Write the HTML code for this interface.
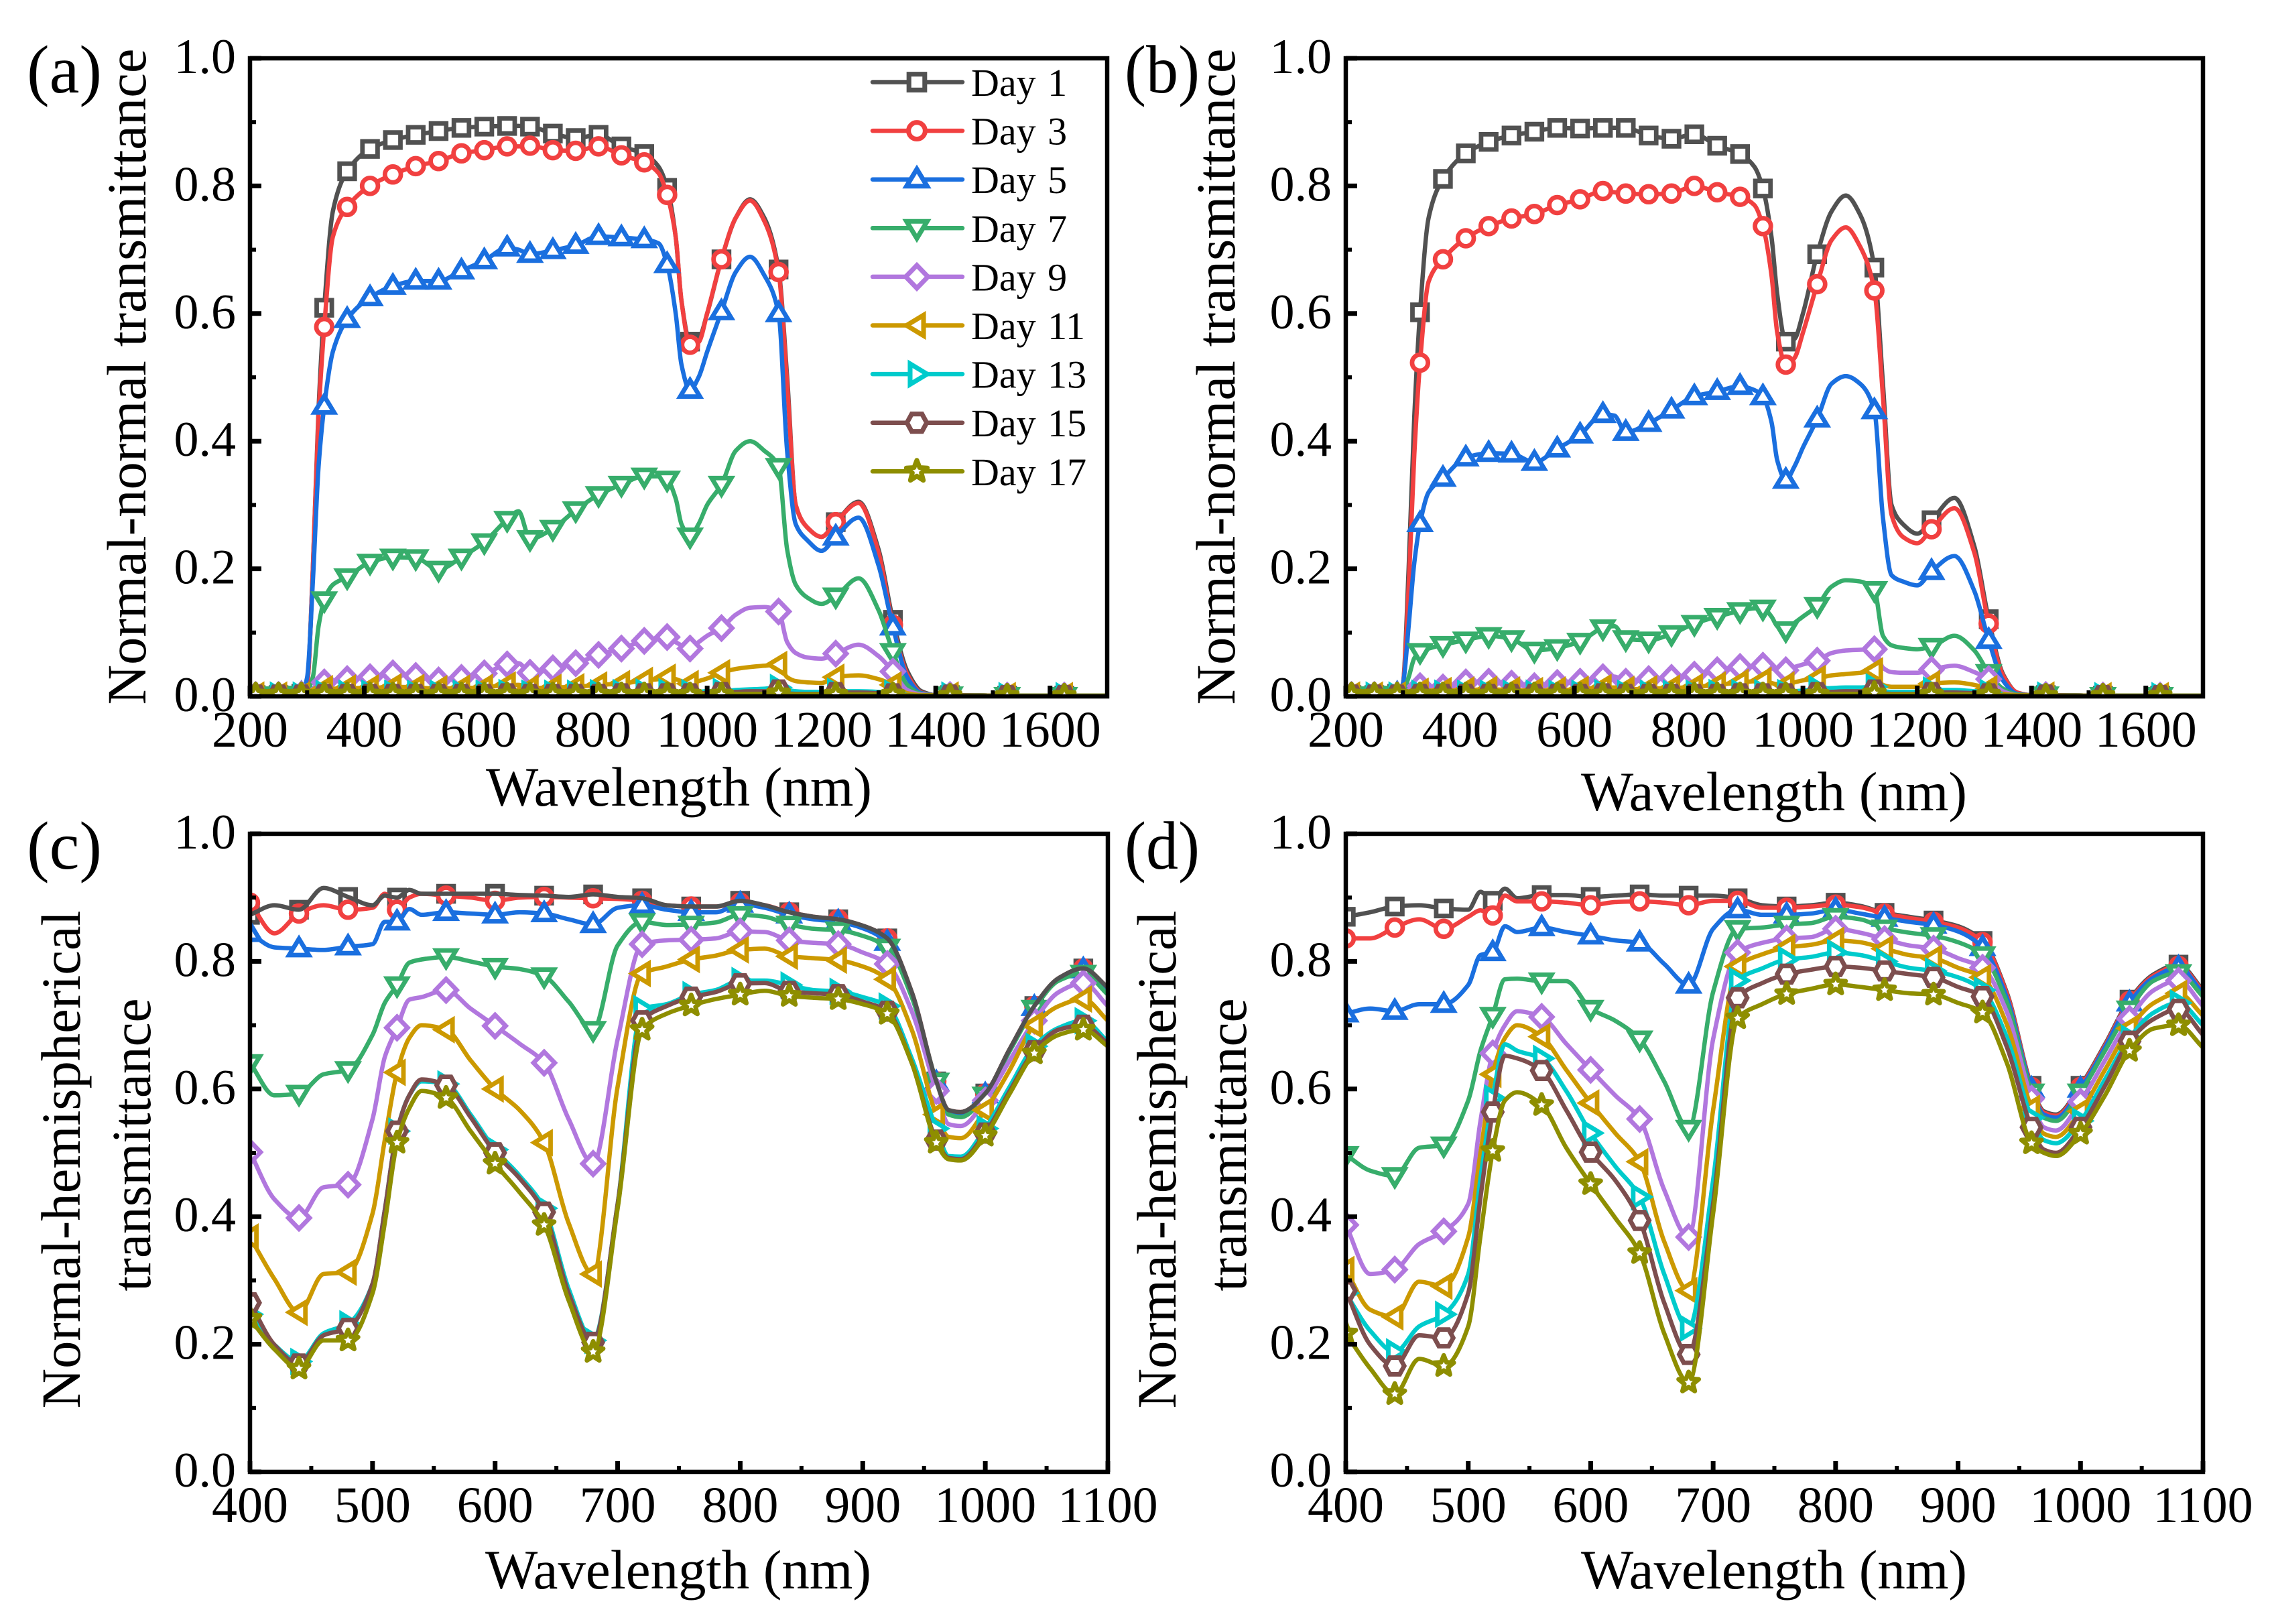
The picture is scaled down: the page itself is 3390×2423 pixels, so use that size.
<!DOCTYPE html>
<html lang="en">
<head>
<meta charset="utf-8">
<title>Transmittance spectra by day</title>
<style>
html,body{margin:0;padding:0;background:#fff}
svg{display:block}
text{font-family:"Liberation Serif",serif;fill:#000}
</style>
</head>
<body>
<svg id="figure" xmlns="http://www.w3.org/2000/svg" width="3390" height="2423" viewBox="0 0 3390 2423">
<rect width="3390" height="2423" fill="#fff"/>
</svg>
<script>
const dayLabels=['Day 1','Day 3','Day 5','Day 7','Day 9','Day 11','Day 13','Day 15','Day 17'];
const yTickValues=[0,0.2,0.4,0.6,0.8,1.0];
const yTickLabels=['0.0','0.2','0.4','0.6','0.8','1.0'];
const yMinorValues=[0.1,0.3,0.5,0.7,0.9];
const xTicksAB=[200,400,600,800,1000,1200,1400,1600];
const xMinorAB=[300,500,700,900,1100,1300,1500,1700];
const xTicksCD=[400,500,600,700,800,900,1000,1100];
const xMinorCD=[450,550,650,750,850,950,1050];

const wavelengthsAB=[200,210,250,290,300,310,320,330,345,370,
410,450,490,530,570,610,650,670,690,730,
770,810,850,890,915,930,945,955,970,985,
1000,1025,1050,1075,1100,1125,1140,1155,1175,1200,
1225,1265,1300,1325,1350,1375,1400,1425,1525,1625,
1700];
const markerWavelengthsAB=[210,250,290,330,370,410,450,490,530,570,610,650,690,730,770,810,850,890,930,970,1025,1125,1225,1325,1425,1525,1625];
const wavelengthsCD=[400,420,440,460,480,500,510,520,530,540,560,580,600,620,640,660,680,700,
720,740,760,780,800,820,840,860,880,900,920,940,960,970,980,1000,1020,1040,1060,1080,1100];
const markerWavelengthsCD=[400,440,480,520,560,600,640,680,720,760,800,840,880,920,960,1000,1040,1080];

const aDay1=[.002,.002,.002,.004,.02,.2,.45,.609,.76,.823,
.858,.872,.88,.886,.891,.893,.894,.894,.893,.882,
.875,.88,.862,.85,.83,.797,.72,.62,.556,.56,
.60,.685,.75,.779,.75,.669,.5,.3,.265,.25,
.273,.305,.23,.12,.04,.008,.002,.002,.001,.001,
.001];
const aDay3=[.002,.002,.002,.004,.02,.2,.44,.579,.72,.767,
.80,.818,.831,.839,.851,.856,.862,.862,.863,.856,
.855,.862,.848,.837,.82,.786,.72,.62,.551,.555,
.60,.685,.75,.777,.745,.665,.49,.3,.265,.25,
.273,.303,.225,.112,.035,.006,.002,.002,.001,.001,
.001];
const aDay5=[.002,.002,.002,.004,.03,.18,.36,.455,.54,.591,
.625,.643,.651,.651,.667,.683,.703,.70,.693,.699,
.707,.721,.719,.716,.71,.677,.6,.52,.48,.5,
.54,.603,.665,.689,.66,.60,.384,.27,.245,.228,
.25,.28,.205,.109,.03,.005,.002,.002,.001,.001,
.001];
const aDay7=[.002,.002,.002,.003,.01,.03,.11,.151,.175,.187,
.21,.218,.217,.199,.218,.242,.277,.29,.247,.263,
.292,.316,.332,.345,.345,.34,.31,.27,.251,.27,
.3,.332,.385,.40,.385,.36,.23,.175,.155,.145,
.157,.185,.135,.07,.018,.004,.002,.002,.001,.001,
.001];
const aDay9=[.002,.002,.002,.003,.005,.012,.02,.022,.025,.027,
.03,.036,.032,.025,.029,.036,.05,.052,.037,.044,
.052,.065,.075,.087,.09,.093,.085,.08,.075,.085,
.095,.107,.128,.139,.14,.133,.085,.068,.061,.059,
.067,.081,.063,.039,.01,.003,.002,.002,.001,.001,
.001];
const aDay11=[.002,.002,.002,.002,.004,.008,.011,.012,.012,.013,
.013,.015,.014,.012,.013,.014,.018,.018,.013,.014,
.015,.018,.02,.025,.027,.03,.027,.024,.02,.024,
.028,.037,.043,.046,.048,.05,.03,.024,.022,.021,
.03,.033,.027,.018,.005,.002,.002,.002,.001,.001,
.001];
const aDay13=[.002,.002,.002,.002,.003,.005,.005,.005,.005,.005,
.005,.005,.005,.005,.005,.005,.006,.006,.005,.005,
.005,.006,.006,.007,.007,.007,.007,.006,.006,.007,
.008,.008,.01,.011,.012,.014,.01,.008,.007,.007,
.008,.008,.007,.005,.002,.001,.001,.002,.001,.001,
.001];
const aDay15=[.002,.002,.002,.002,.002,.003,.003,.003,.003,.003,
.003,.003,.003,.003,.003,.003,.004,.004,.003,.003,
.003,.003,.004,.004,.004,.004,.004,.004,.004,.005,
.005,.006,.007,.008,.008,.01,.005,.004,.004,.004,
.006,.006,.005,.004,.001,.001,.001,.002,.001,.001,
.001];
const aDay17=[.003,.003,.003,.003,.003,.003,.003,.003,.003,.003,
.003,.003,.003,.003,.003,.003,.003,.003,.003,.003,
.003,.003,.003,.003,.003,.003,.003,.003,.003,.003,
.003,.003,.004,.004,.004,.005,.004,.003,.003,.003,
.003,.003,.003,.003,.002,.001,.001,.001,.001,.001,
.001];

const bDay1=[.002,.002,.002,.004,.02,.2,.44,.602,.75,.811,
.851,.869,.879,.885,.891,.89,.891,.891,.891,.879,
.874,.881,.863,.85,.83,.796,.72,.63,.556,.56,
.60,.693,.76,.785,.755,.672,.49,.3,.27,.255,
.276,.311,.235,.121,.035,.006,.002,.002,.001,.001,
.001];
const bDay3=[.002,.002,.002,.004,.02,.17,.38,.523,.65,.685,
.718,.737,.749,.756,.77,.779,.792,.79,.788,.787,
.788,.80,.79,.783,.77,.737,.66,.57,.52,.53,
.57,.646,.715,.735,.705,.636,.47,.285,.25,.24,
.262,.295,.225,.114,.033,.006,.002,.002,.001,.001,
.001];
const bDay5=[.002,.002,.002,.004,.02,.11,.21,.271,.32,.342,
.374,.381,.38,.367,.388,.41,.442,.44,.414,.428,
.449,.47,.478,.486,.48,.47,.43,.37,.339,.36,
.39,.435,.49,.502,.49,.448,.28,.19,.18,.174,
.196,.22,.165,.088,.025,.004,.002,.002,.001,.001,
.001];
const bDay7=[.002,.002,.002,.003,.008,.03,.06,.07,.075,.081,
.088,.095,.09,.072,.076,.086,.107,.11,.09,.088,
.098,.114,.125,.134,.138,.138,.125,.11,.104,.115,
.125,.142,.172,.182,.18,.167,.095,.08,.076,.074,
.078,.095,.072,.037,.012,.003,.002,.002,.001,.001,
.001];
const bDay9=[.002,.002,.002,.002,.004,.01,.015,.016,.015,.014,
.022,.023,.02,.016,.021,.023,.03,.031,.023,.027,
.029,.034,.041,.046,.047,.048,.044,.042,.041,.046,
.05,.056,.068,.072,.073,.074,.045,.038,.037,.037,
.042,.048,.038,.027,.008,.002,.002,.002,.001,.001,
.001];
const bDay11=[.002,.002,.002,.002,.003,.006,.008,.008,.009,.009,
.01,.011,.01,.009,.01,.011,.014,.014,.011,.012,
.013,.015,.018,.022,.024,.025,.021,.019,.018,.022,
.025,.028,.033,.035,.037,.04,.018,.015,.015,.015,
.02,.022,.018,.012,.004,.002,.002,.002,.001,.001,
.001];
const bDay13=[.002,.002,.002,.002,.003,.004,.004,.005,.005,.005,
.005,.005,.005,.005,.005,.005,.006,.006,.005,.005,
.005,.005,.006,.006,.006,.006,.006,.006,.006,.008,
.009,.012,.013,.014,.014,.015,.008,.007,.007,.007,
.01,.01,.008,.006,.002,.001,.001,.002,.001,.001,
.001];
const bDay15=[.002,.002,.002,.002,.002,.003,.003,.003,.003,.003,
.003,.003,.003,.003,.003,.003,.004,.004,.003,.003,
.003,.003,.003,.004,.004,.004,.004,.004,.004,.005,
.005,.006,.007,.008,.008,.01,.005,.004,.004,.004,
.006,.006,.005,.004,.001,.001,.001,.002,.001,.001,
.001];
const bDay17=[.003,.003,.003,.003,.003,.003,.003,.003,.003,.003,
.003,.003,.003,.003,.003,.003,.003,.003,.003,.003,
.003,.003,.003,.003,.003,.003,.003,.003,.003,.003,
.003,.003,.004,.004,.004,.005,.004,.003,.003,.003,
.003,.003,.003,.003,.002,.001,.001,.001,.001,.001,
.001];

const cDay1=[.873,.888,.881,.915,.901,.888,.903,.90,.912,.906,.906,.906,.906,.904,.903,.901,.905,.901,
.899,.888,.886,.886,.895,.888,.877,.87,.866,.856,.836,.752,.612,.567,.564,.593,.663,.73,.774,.789,.759];
const cDay3=[.892,.844,.875,.888,.881,.884,.906,.881,.90,.906,.903,.90,.895,.90,.901,.90,.899,.898,
.895,.888,.886,.886,.892,.888,.877,.87,.866,.856,.836,.752,.612,.567,.564,.593,.663,.73,.774,.789,.759];
const cDay5=[.844,.822,.82,.818,.823,.827,.862,.862,.882,.873,.877,.875,.873,.877,.875,.866,.858,.884,
.888,.881,.877,.877,.89,.884,.873,.866,.862,.852,.83,.75,.61,.565,.562,.591,.66,.728,.772,.787,.757];
const cDay7=[.641,.59,.593,.623,.63,.685,.735,.763,.798,.803,.807,.80,.792,.788,.777,.737,.693,.825,
.862,.857,.858,.861,.873,.87,.858,.851,.849,.84,.822,.744,.612,.56,.556,.59,.66,.726,.77,.781,.748];
const cDay9=[.501,.427,.398,.446,.45,.553,.65,.696,.74,.744,.755,.726,.699,.671,.641,.553,.483,.678,
.827,.833,.834,.836,.847,.846,.833,.829,.827,.814,.796,.722,.597,.545,.542,.582,.645,.707,.752,.766,.73];
const cDay11=[.368,.302,.25,.31,.313,.405,.52,.626,.68,.70,.693,.645,.60,.567,.516,.39,.31,.604,
.781,.792,.803,.809,.818,.82,.808,.805,.802,.792,.772,.693,.56,.525,.523,.567,.63,.70,.73,.741,.707];
const cDay13=[.247,.199,.173,.217,.232,.295,.41,.534,.59,.612,.608,.56,.505,.464,.413,.287,.206,.42,
.726,.733,.748,.755,.77,.77,.763,.755,.753,.744,.73,.648,.538,.495,.494,.538,.604,.667,.696,.707,.674];
const cDay15=[.265,.199,.169,.214,.225,.295,.41,.534,.59,.615,.606,.556,.50,.46,.407,.28,.203,.42,
.707,.73,.744,.752,.765,.766,.753,.75,.748,.737,.722,.641,.52,.492,.49,.531,.597,.66,.693,.70,.671];
const cDay17=[.24,.192,.162,.206,.206,.28,.39,.516,.57,.597,.586,.534,.483,.438,.387,.269,.188,.413,
.693,.718,.731,.741,.748,.754,.746,.743,.741,.733,.718,.641,.516,.49,.488,.527,.593,.656,.685,.693,.667];

const dDay1=[.87,.877,.886,.888,.883,.881,.909,.895,.914,.899,.904,.904,.901,.903,.905,.903,.903,.903,
.899,.888,.886,.888,.892,.887,.876,.87,.864,.855,.832,.75,.605,.565,.56,.605,.67,.74,.78,.795,.755];
const dDay3=[.836,.836,.853,.866,.851,.87,.88,.872,.903,.894,.894,.892,.888,.893,.894,.892,.888,.895,
.895,.884,.884,.886,.889,.885,.875,.868,.862,.853,.83,.748,.603,.563,.558,.603,.668,.738,.778,.793,.753];
const dDay5=[.718,.726,.722,.733,.733,.763,.81,.814,.855,.846,.853,.846,.84,.833,.829,.796,.763,.851,
.881,.873,.873,.875,.881,.875,.868,.862,.857,.847,.822,.742,.60,.56,.555,.60,.665,.735,.775,.79,.75];
const dDay7=[.497,.472,.464,.508,.512,.582,.66,.715,.772,.773,.769,.769,.726,.707,.678,.612,.538,.752,
.851,.853,.858,.86,.87,.866,.852,.845,.84,.83,.81,.735,.595,.555,.55,.595,.66,.725,.77,.782,.745];
const dDay9=[.387,.31,.317,.357,.377,.42,.55,.656,.70,.722,.713,.671,.63,.59,.553,.442,.368,.678,
.814,.829,.836,.838,.851,.845,.835,.825,.82,.805,.79,.72,.585,.54,.535,.58,.645,.71,.755,.77,.73];
const dDay11=[.317,.254,.243,.298,.291,.368,.50,.623,.68,.70,.682,.63,.578,.531,.486,.361,.284,.567,
.792,.811,.822,.826,.833,.83,.82,.81,.805,.79,.775,.70,.57,.53,.525,.565,.63,.695,.735,.75,.715];
const dDay13=[.28,.221,.188,.228,.247,.31,.46,.586,.67,.66,.648,.597,.531,.479,.431,.31,.225,.457,
.77,.789,.803,.807,.814,.81,.80,.79,.785,.775,.755,.68,.555,.52,.515,.55,.615,.68,.72,.735,.70];
const dDay15=[.284,.199,.166,.214,.21,.28,.43,.564,.652,.648,.629,.567,.501,.457,.394,.265,.184,.42,
.743,.766,.78,.787,.792,.79,.785,.78,.775,.76,.745,.665,.54,.505,.50,.54,.605,.675,.71,.725,.685];
const dDay17=[.217,.162,.122,.177,.166,.228,.37,.503,.582,.595,.575,.508,.451,.398,.343,.217,.14,.405,
.711,.733,.749,.757,.764,.76,.755,.75,.748,.735,.72,.64,.515,.50,.495,.53,.59,.66,.695,.70,.665];

const SVG_NS='http://www.w3.org/2000/svg';
const figure=document.getElementById('figure');
const seriesColors=['#515151','#F14040','#1A6FDF','#37AD6B','#B177DE','#CC9900','#00CBCC','#7D4E4E','#8E8E00'];
const starPoints=[];
for(let k=0;k<10;k++){
  const radius=k%2?6:14;
  const angle=-Math.PI/2+k*Math.PI/5;
  starPoints.push((radius*Math.cos(angle)).toFixed(1)+' '+(radius*Math.sin(angle)).toFixed(1));
}
const markerShapes=[
 'M-10 -10H10V10H-10Z',
 'M10.5 0A10.5 10.5 0 1 1 -10.5 0A10.5 10.5 0 1 1 10.5 0Z',
 'M0 -13L13 8.5H-13Z',
 'M0 13L13 -8.5H-13Z',
 'M0 -14.5L14 0L0 14.5L-14 0Z',
 'M-13 0L8.5 -13V13Z',
 'M13 0L-8.5 -13V13Z',
 'M-12.5 0L-6.5 -11H6.5L12.5 0L6.5 11H-6.5Z',
 'M'+starPoints.join('L')+'Z'
];
function make(tag,attrs,parent){
  const el=document.createElementNS(SVG_NS,tag);
  for(const k in attrs){el.setAttribute(k,attrs[k]);}
  parent.appendChild(el);
  return el;
}
function smoothPath(px,py){
  const n=px.length;
  const d=[];
  for(let i=0;i<n-1;i++){d.push((py[i+1]-py[i])/(px[i+1]-px[i]));}
  const m=[d[0]];
  for(let i=1;i<n-1;i++){
    if(d[i-1]*d[i]<=0){m.push(0);}
    else{
      const h0=px[i]-px[i-1],h1=px[i+1]-px[i];
      const w1=2*h1+h0,w2=h1+2*h0;
      m.push((w1+w2)/(w1/d[i-1]+w2/d[i]));
    }
  }
  m.push(d[n-2]);
  let out='M'+px[0].toFixed(1)+' '+py[0].toFixed(1);
  for(let i=0;i<n-1;i++){
    const h=(px[i+1]-px[i])/3;
    out+='C'+(px[i]+h).toFixed(1)+' '+(py[i]+m[i]*h).toFixed(1)+' '+(px[i+1]-h).toFixed(1)+' '+(py[i+1]-m[i+1]*h).toFixed(1)+' '+px[i+1].toFixed(1)+' '+py[i+1].toFixed(1);
  }
  return out;
}
function drawMarker(parent,i,px,py,name,scale){
  const mk=make('path',{d:markerShapes[i],transform:'translate('+px.toFixed(1)+' '+py.toFixed(1)+') scale('+scale+')',fill:'#fff',stroke:seriesColors[i],'stroke-width':6,'stroke-linejoin':i===8?'round':'miter'},parent);
  
  
  return mk;
}
function drawPanel(p){
  const group=make('g',{},figure);
  
  
  const sx=v=>p.left+(v-p.xMin)*(p.right-p.left)/(p.xMax-p.xMin);
  const sy=v=>p.bottom-v*(p.bottom-p.top);

  const clip=make('clipPath',{id:'clip-'+p.id},group);
  make('rect',{x:p.left,y:p.top,width:p.right-p.left,height:p.bottom-p.top},clip);
  const plot=make('g',{'clip-path':'url(#clip-'+p.id+')'},group);
  
  

  function drawLine(i){
    const line=make('path',{d:smoothPath(p.wavelengths.map(sx),p.series[i].map(sy)),fill:'none',stroke:seriesColors[i],'stroke-width':6.5,'stroke-linejoin':'round','stroke-linecap':'round'},plot);
    
    
  }
  p.series.forEach((values,i)=>{
    if(!(p.dayOneLineOnTop&&i===0)){drawLine(i);}
    p.markerWavelengths.forEach(w=>{
      const j=p.wavelengths.indexOf(w);
      drawMarker(plot,i,sx(w),sy(values[j]),'marker-'+p.id+'-day-'+dayLabels[i].slice(4)+'-'+w,1.13);
    });
  });
  if(p.dayOneLineOnTop){drawLine(0);}

  p.xTicks.forEach(v=>{
    const tick=make('line',{x1:sx(v),x2:sx(v),y1:p.bottom,y2:p.bottom-16,stroke:'#000','stroke-width':7},group);
    
    
    const label=make('text',{x:sx(v),y:p.bottom+75,'text-anchor':'middle','font-size':76},group);
    
    
    label.textContent=String(v);
  });
  p.xMinor.forEach(v=>{
    const tick=make('line',{x1:sx(v),x2:sx(v),y1:p.bottom,y2:p.bottom-9,stroke:'#000','stroke-width':6},group);
    
    
  });
  yTickValues.forEach((v,k)=>{
    const tick=make('line',{x1:p.left,x2:p.left+17,y1:sy(v),y2:sy(v),stroke:'#000','stroke-width':7},group);
    
    
    const label=make('text',{x:p.left-21,y:sy(v)+22,'text-anchor':'end','font-size':74},group);
    
    
    label.textContent=yTickLabels[k];
  });
  yMinorValues.forEach(v=>{
    const tick=make('line',{x1:p.left,x2:p.left+9,y1:sy(v),y2:sy(v),stroke:'#000','stroke-width':6},group);
    
    
  });
  const frame=make('rect',{x:p.left,y:p.top,width:p.right-p.left,height:p.bottom-p.top,fill:'none',stroke:'#000','stroke-width':6.5},group);
  
  

  const xTitle=make('text',{x:p.xTitleX,y:p.xTitleY,'text-anchor':'middle','font-size':83,textLength:576,lengthAdjust:'spacingAndGlyphs'},group);
  
  
  xTitle.textContent='Wavelength (nm)';

  p.yTitles.forEach(t=>{
    const title=make('text',{transform:'translate('+t.x+' '+t.y+') rotate(-90)','text-anchor':'middle','font-size':83,textLength:t.len,lengthAdjust:'spacingAndGlyphs'},group);
    
    
    title.textContent=t.text;
  });
  const tag=make('text',{x:p.tagX,y:p.tagY,'font-size':102,textLength:112,lengthAdjust:'spacingAndGlyphs'},group);
  
  
  tag.textContent='('+p.id+')';
}

drawPanel({id:'a',left:373,right:1652,top:87,bottom:1039,xMin:200,xMax:1700,wavelengths:wavelengthsAB,markerWavelengths:markerWavelengthsAB,
  series:[aDay1,aDay3,aDay5,aDay7,aDay9,aDay11,aDay13,aDay15,aDay17],xTicks:xTicksAB,xMinor:xMinorAB,
  xTitleX:1013,xTitleY:1202,yTitles:[{text:'Normal-normal transmittance',x:217,y:562,len:979}],tagX:40,tagY:138});
drawPanel({id:'b',left:2008,right:3287,top:87,bottom:1039,xMin:200,xMax:1700,wavelengths:wavelengthsAB,markerWavelengths:markerWavelengthsAB,
  series:[bDay1,bDay3,bDay5,bDay7,bDay9,bDay11,bDay13,bDay15,bDay17],xTicks:xTicksAB,xMinor:xMinorAB,
  xTitleX:2647,xTitleY:1209,yTitles:[{text:'Normal-normal transmittance',x:1842,y:562,len:979}],tagX:1678,tagY:138});
drawPanel({id:'c',left:373,right:1653,top:1244,bottom:2196,xMin:400,xMax:1100,wavelengths:wavelengthsCD,markerWavelengths:markerWavelengthsCD,dayOneLineOnTop:true,
  series:[cDay1,cDay3,cDay5,cDay7,cDay9,cDay11,cDay13,cDay15,cDay17],xTicks:xTicksCD,xMinor:xMinorCD,
  xTitleX:1012,xTitleY:2370,yTitles:[{text:'Normal-hemispherical',x:119,y:1730,len:743},{text:'transmittance',x:224,y:1708,len:437}],tagX:40,tagY:1296});
drawPanel({id:'d',left:2008,right:3287,top:1244,bottom:2196,xMin:400,xMax:1100,wavelengths:wavelengthsCD,markerWavelengths:markerWavelengthsCD,
  series:[dDay1,dDay3,dDay5,dDay7,dDay9,dDay11,dDay13,dDay15,dDay17],xTicks:xTicksCD,xMinor:xMinorCD,
  xTitleX:2647,xTitleY:2370,yTitles:[{text:'Normal-hemispherical',x:1754,y:1730,len:743},{text:'transmittance',x:1859,y:1708,len:437}],tagX:1678,tagY:1296});

const legend=make('g',{},figure);


dayLabels.forEach((label,i)=>{
  const rowY=122.5+i*72.6;
  const entry=make('g',{},legend);
  
  
  const sample=make('line',{x1:1302,x2:1436,y1:rowY,y2:rowY,stroke:seriesColors[i],'stroke-width':6.5,'stroke-linecap':'round'},entry);
  
  
  drawMarker(entry,i,1368,rowY,'legend-marker',1.18);
  const text=make('text',{x:1449,y:rowY+20.5,'font-size':58,'word-spacing':'3px'},entry);
  
  
  text.textContent=label;
});
</script>
</body>
</html>
